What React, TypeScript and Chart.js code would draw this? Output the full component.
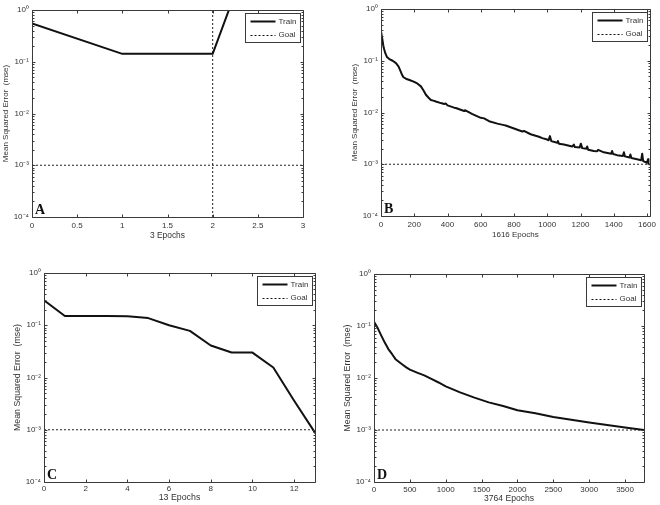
import React, { useEffect, useRef } from "react";
import { Chart, registerables } from "chart.js";

Chart.register(...registerables);

// ---------------- data ----------------
const yTitle = "Mean Squared Error  (mse)";
const legendLabels = ["Train", "Goal"];
const goalValue = 1e-3;
const yDecades = [1e-4, 1e-3, 1e-2, 1e-1, 1];

// Panel A
const epochsA = [0, 1, 2, 3];
const trainA = [0.55, 0.142, 0.142, 7400];
const bestEpochA = 2;
const xTicksA = [0, 0.5, 1, 1.5, 2, 2.5, 3];
const xMaxA = 3;
const xTitleA = "3 Epochs";

// Panel B
const epochsB = [
  0, 8, 16, 26, 36, 50, 70, 90, 105, 115, 125, 135, 150, 175, 200, 220, 240, 255, 270, 285,
  300, 320, 330, 360, 380, 390, 400, 440, 450, 500, 505, 550, 600, 620, 650, 700, 740, 750,
  800, 850, 860, 900, 950, 970, 1000, 1008, 1016, 1024, 1060, 1064, 1070, 1100, 1150, 1160,
  1166, 1195, 1202, 1210, 1235, 1240, 1246, 1280, 1300, 1306, 1340, 1385, 1390, 1396, 1420,
  1455, 1461, 1467, 1495, 1500, 1506, 1540, 1565, 1571, 1577, 1600, 1606, 1610, 1616,
];
const trainB = [
  0.37, 0.26, 0.18, 0.14, 0.118, 0.108, 0.1, 0.09, 0.078, 0.066, 0.055, 0.048, 0.045, 0.042,
  0.039, 0.036, 0.032, 0.027, 0.022, 0.0195, 0.0175, 0.0168, 0.0163, 0.0152, 0.0146, 0.0149,
  0.0137, 0.0124, 0.0122, 0.0107, 0.0111, 0.0093, 0.0079, 0.0077, 0.0068, 0.0061, 0.0057,
  0.0056, 0.0049, 0.0043, 0.0044, 0.0038, 0.0034, 0.0032, 0.0030, 0.0029, 0.0035, 0.0028,
  0.0026, 0.0028, 0.0025, 0.0024, 0.0022, 0.0024, 0.00215, 0.0021, 0.0025, 0.00205, 0.0020,
  0.0022, 0.0019, 0.0018, 0.00178, 0.0019, 0.0017, 0.0016, 0.0018, 0.00158, 0.0015, 0.00145,
  0.0017, 0.00142, 0.00135, 0.00155, 0.00132, 0.00125, 0.0012, 0.0016, 0.00115, 0.00107,
  0.00125, 0.00104, 0.00099,
];
const xTicksB = [0, 200, 400, 600, 800, 1000, 1200, 1400, 1600];
const xMaxB = 1616;
const xTitleB = "1616 Epochs";

// Panel C
const epochsC = [0, 1, 2, 3, 4, 5, 6, 7, 8, 9, 10, 11, 12, 13];
const trainC = [0.3, 0.15, 0.15, 0.15, 0.149, 0.137, 0.1, 0.078, 0.041, 0.03, 0.03, 0.0155, 0.0036, 0.00088];
const xTicksC = [0, 2, 4, 6, 8, 10, 12];
const xMaxC = 13;
const xTitleC = "13 Epochs";

// Panel D
const epochsD = [
  0, 50, 100, 150, 200, 250, 300, 400, 450, 500, 600, 700, 800, 900, 1000, 1200, 1400, 1600,
  1800, 2000, 2250, 2500, 2750, 3000, 3250, 3500, 3764,
];
const trainD = [
  0.12, 0.092, 0.066, 0.048, 0.036, 0.029, 0.023, 0.018, 0.016, 0.0145, 0.0127, 0.0112,
  0.0096, 0.0082, 0.0069, 0.0053, 0.0042, 0.0034, 0.0029, 0.0024, 0.0021, 0.00178, 0.00157,
  0.0014, 0.00125, 0.00112, 0.001,
];
const xTicksD = [0, 500, 1000, 1500, 2000, 2500, 3000, 3500];
const xMaxD = 3764;
const xTitleD = "3764 Epochs";

// ---------------- layout / style ----------------
type Layout = {
  left: number; top: number; w: number; h: number;
  pl: number; pt: number; pr: number; pb: number;
  yTitleX: number; xTitleY: number; xTickPad: number;
  yTitleSize: number; xTitleSize: number;
};

const FONT = "'Liberation Sans', Arial, sans-serif";
const TEXT = "#333";
const FRAME = "#3a3a3a";

const SUP: Record<string, string> = { "-": "⁻", "0": "⁰", "1": "¹", "2": "²", "3": "³", "4": "⁴" };
const fmtPow = (v: number) => {
  const e = Math.round(Math.log10(v));
  return "10" + String(e).split("").map((c) => SUP[c] || c).join("");
};

const framePlugin = {
  id: "matlabFrame",
  afterDatasetsDraw(chart: any, _args: any, opts: any) {
    const { ctx, chartArea: a, scales } = chart;
    const xs = scales.x;
    const ys = scales.y;
    ctx.save();
    ctx.strokeStyle = FRAME;
    ctx.lineWidth = 1;
    const L = Math.round(a.left) + 0.5;
    const R = Math.round(a.right) + 0.5;
    const T = Math.round(a.top) + 0.5;
    const B = Math.round(a.bottom) + 0.5;
    ctx.beginPath();
    ctx.rect(L, T, R - L, B - T);
    for (const t of xs.ticks) {
      const px = Math.round(xs.getPixelForValue(t.value)) + 0.5;
      ctx.moveTo(px, B); ctx.lineTo(px, B - 3);
      ctx.moveTo(px, T); ctx.lineTo(px, T + 3);
    }
    for (let e = -4; e <= 0; e++) {
      for (let k = 1; k <= 9; k++) {
        const v = k * Math.pow(10, e);
        if (v > 1.0000001) break;
        const py = Math.round(ys.getPixelForValue(v)) + 0.5;
        const len = k === 1 ? 3 : 2;
        ctx.moveTo(L, py); ctx.lineTo(L + len, py);
        ctx.moveTo(R, py); ctx.lineTo(R - len, py);
      }
    }
    ctx.stroke();

    const lw = 55, lh = 29;
    const lx = Math.round(a.right - 3 - lw) + 0.5;
    const ly = Math.round(a.top + 3) + 0.5;
    ctx.fillStyle = "#fff";
    ctx.fillRect(lx, ly, lw, lh);
    ctx.strokeRect(lx, ly, lw, lh);
    const rows = [ly + 8, ly + 21];
    ctx.strokeStyle = "#111";
    ctx.lineWidth = 2;
    ctx.beginPath();
    ctx.moveTo(lx + 5, rows[0]); ctx.lineTo(lx + 30, rows[0]);
    ctx.stroke();
    ctx.lineWidth = 1;
    ctx.setLineDash([2, 2]);
    ctx.beginPath();
    ctx.moveTo(lx + 5, Math.round(rows[1]) + 0.5); ctx.lineTo(lx + 30, Math.round(rows[1]) + 0.5);
    ctx.stroke();
    ctx.setLineDash([]);
    ctx.fillStyle = TEXT;
    ctx.font = `8px ${FONT}`;
    ctx.textBaseline = "middle";
    ctx.textAlign = "left";
    ctx.fillText(legendLabels[0], lx + 33, rows[0]);
    ctx.fillText(legendLabels[1], lx + 33, rows[1]);

    ctx.fillStyle = "#111";
    ctx.font = `bold 14px 'Liberation Serif', 'Times New Roman', serif`;
    ctx.textBaseline = "alphabetic";
    ctx.fillText(opts.letter, a.left + 3, a.bottom - 3.5);
    ctx.restore();
  },
};

type PanelSpec = {
  letter: string;
  epochs: number[];
  train: number[];
  xTicks: number[];
  xMax: number;
  xTitle: string;
  best?: number;
  layout: Layout;
};

const panels: PanelSpec[] = [
  {
    letter: "A", epochs: epochsA, train: trainA, xTicks: xTicksA, xMax: xMaxA, xTitle: xTitleA, best: bestEpochA,
    layout: { left: 0, top: 0, w: 330, h: 250, pl: 32, pt: 10, pr: 303, pb: 217, yTitleX: 6, xTitleY: 236, xTickPad: 3.6, yTitleSize: 8, xTitleSize: 8.4 },
  },
  {
    letter: "B", epochs: epochsB, train: trainB, xTicks: xTicksB, xMax: xMaxB, xTitle: xTitleB,
    layout: { left: 330, top: 0, w: 330, h: 250, pl: 51, pt: 9, pr: 321, pb: 216, yTitleX: 25, xTitleY: 235, xTickPad: 4, yTitleSize: 8, xTitleSize: 8 },
  },
  {
    letter: "C", epochs: epochsC, train: trainC, xTicks: xTicksC, xMax: xMaxC, xTitle: xTitleC,
    layout: { left: 0, top: 250, w: 330, h: 255, pl: 44, pt: 23, pr: 315, pb: 232, yTitleX: 18, xTitleY: 248, xTickPad: 1.8, yTitleSize: 8.8, xTitleSize: 8.8 },
  },
  {
    letter: "D", epochs: epochsD, train: trainD, xTicks: xTicksD, xMax: xMaxD, xTitle: xTitleD,
    layout: { left: 330, top: 250, w: 330, h: 255, pl: 44, pt: 24, pr: 314, pb: 232, yTitleX: 18, xTitleY: 249, xTickPad: 2.8, yTitleSize: 8.8, xTitleSize: 8.6 },
  },
];

function Panel({ spec }: { spec: PanelSpec }) {
  const ref = useRef<HTMLCanvasElement>(null);
  useEffect(() => {
    const L = spec.layout;
    const datasets: any[] = [
      {
        label: legendLabels[0],
        data: spec.epochs.map((e, i) => ({ x: e, y: spec.train[i] })),
        borderColor: "#111",
        borderWidth: 2,
        borderJoinStyle: "round",
        borderCapStyle: "round",
        pointRadius: 0,
        tension: 0,
        fill: false,
      },
      {
        label: legendLabels[1],
        data: [{ x: 0, y: goalValue }, { x: spec.xMax, y: goalValue }],
        borderColor: "#222",
        borderWidth: 1,
        borderDash: [2, 2],
        pointRadius: 0,
        fill: false,
      },
    ];
    if (spec.best !== undefined) {
      datasets.push({
        label: "Best",
        data: [{ x: spec.best, y: yDecades[0] }, { x: spec.best, y: yDecades[yDecades.length - 1] }],
        borderColor: "#222",
        borderWidth: 1,
        borderDash: [2, 2],
        pointRadius: 0,
        fill: false,
      });
    }
    const xTitleLH = L.xTitleSize * 1.2;
    const yTitleLH = L.yTitleSize * 1.2;
    const chart = new Chart(ref.current as HTMLCanvasElement, {
      type: "line",
      data: { datasets },
      plugins: [framePlugin as any],
      options: {
        animation: false,
        responsive: false,
        events: [],
        layout: { padding: { left: 0, top: L.pt, right: L.w - L.pr, bottom: 0 } },
        plugins: {
          legend: { display: false },
          tooltip: { enabled: false },
          matlabFrame: { letter: spec.letter },
        } as any,
        scales: {
          x: {
            type: "linear",
            min: 0,
            max: spec.xMax,
            afterBuildTicks: (s: any) => {
              s.ticks = spec.xTicks.map((v) => ({ value: v }));
            },
            afterFit: (s: any) => {
              s.height = L.h - L.pb;
            },
            grid: { display: false, drawTicks: false },
            border: { display: false },
            ticks: {
              autoSkip: false,
              maxRotation: 0,
              padding: L.xTickPad,
              color: TEXT,
              font: { family: FONT, size: 8 },
              callback: (v: any) => String(v),
            },
            title: {
              display: true,
              text: spec.xTitle,
              color: TEXT,
              font: { family: FONT, size: L.xTitleSize },
              padding: { top: 0, bottom: L.h - L.xTitleY - xTitleLH / 2 },
            },
          },
          y: {
            type: "logarithmic",
            min: yDecades[0],
            max: yDecades[yDecades.length - 1],
            afterBuildTicks: (s: any) => {
              s.ticks = yDecades.map((v) => ({ value: v }));
            },
            afterFit: (s: any) => {
              s.width = L.pl;
            },
            grid: { display: false, drawTicks: false },
            border: { display: false },
            ticks: {
              padding: 3,
              color: TEXT,
              font: { family: FONT, size: 8 },
              callback: (v: any) => fmtPow(Number(v)),
            },
            title: {
              display: true,
              text: yTitle,
              color: TEXT,
              font: { family: FONT, size: L.yTitleSize },
              padding: { top: L.yTitleX - yTitleLH / 2, bottom: 0 },
            },
          },
        },
      } as any,
    });
    return () => chart.destroy();
  }, [spec]);
  const L = spec.layout;
  return (
    <canvas
      ref={ref}
      width={L.w}
      height={L.h}
      style={{ position: "absolute", left: L.left, top: L.top, width: L.w, height: L.h }}
    />
  );
}

export default function App() {
  return (
    <div style={{ position: "fixed", left: 0, top: 0, width: 660, height: 505, background: "#fff", overflow: "hidden" }}>
      {panels.map((p) => (
        <Panel key={p.letter} spec={p} />
      ))}
    </div>
  );
}
